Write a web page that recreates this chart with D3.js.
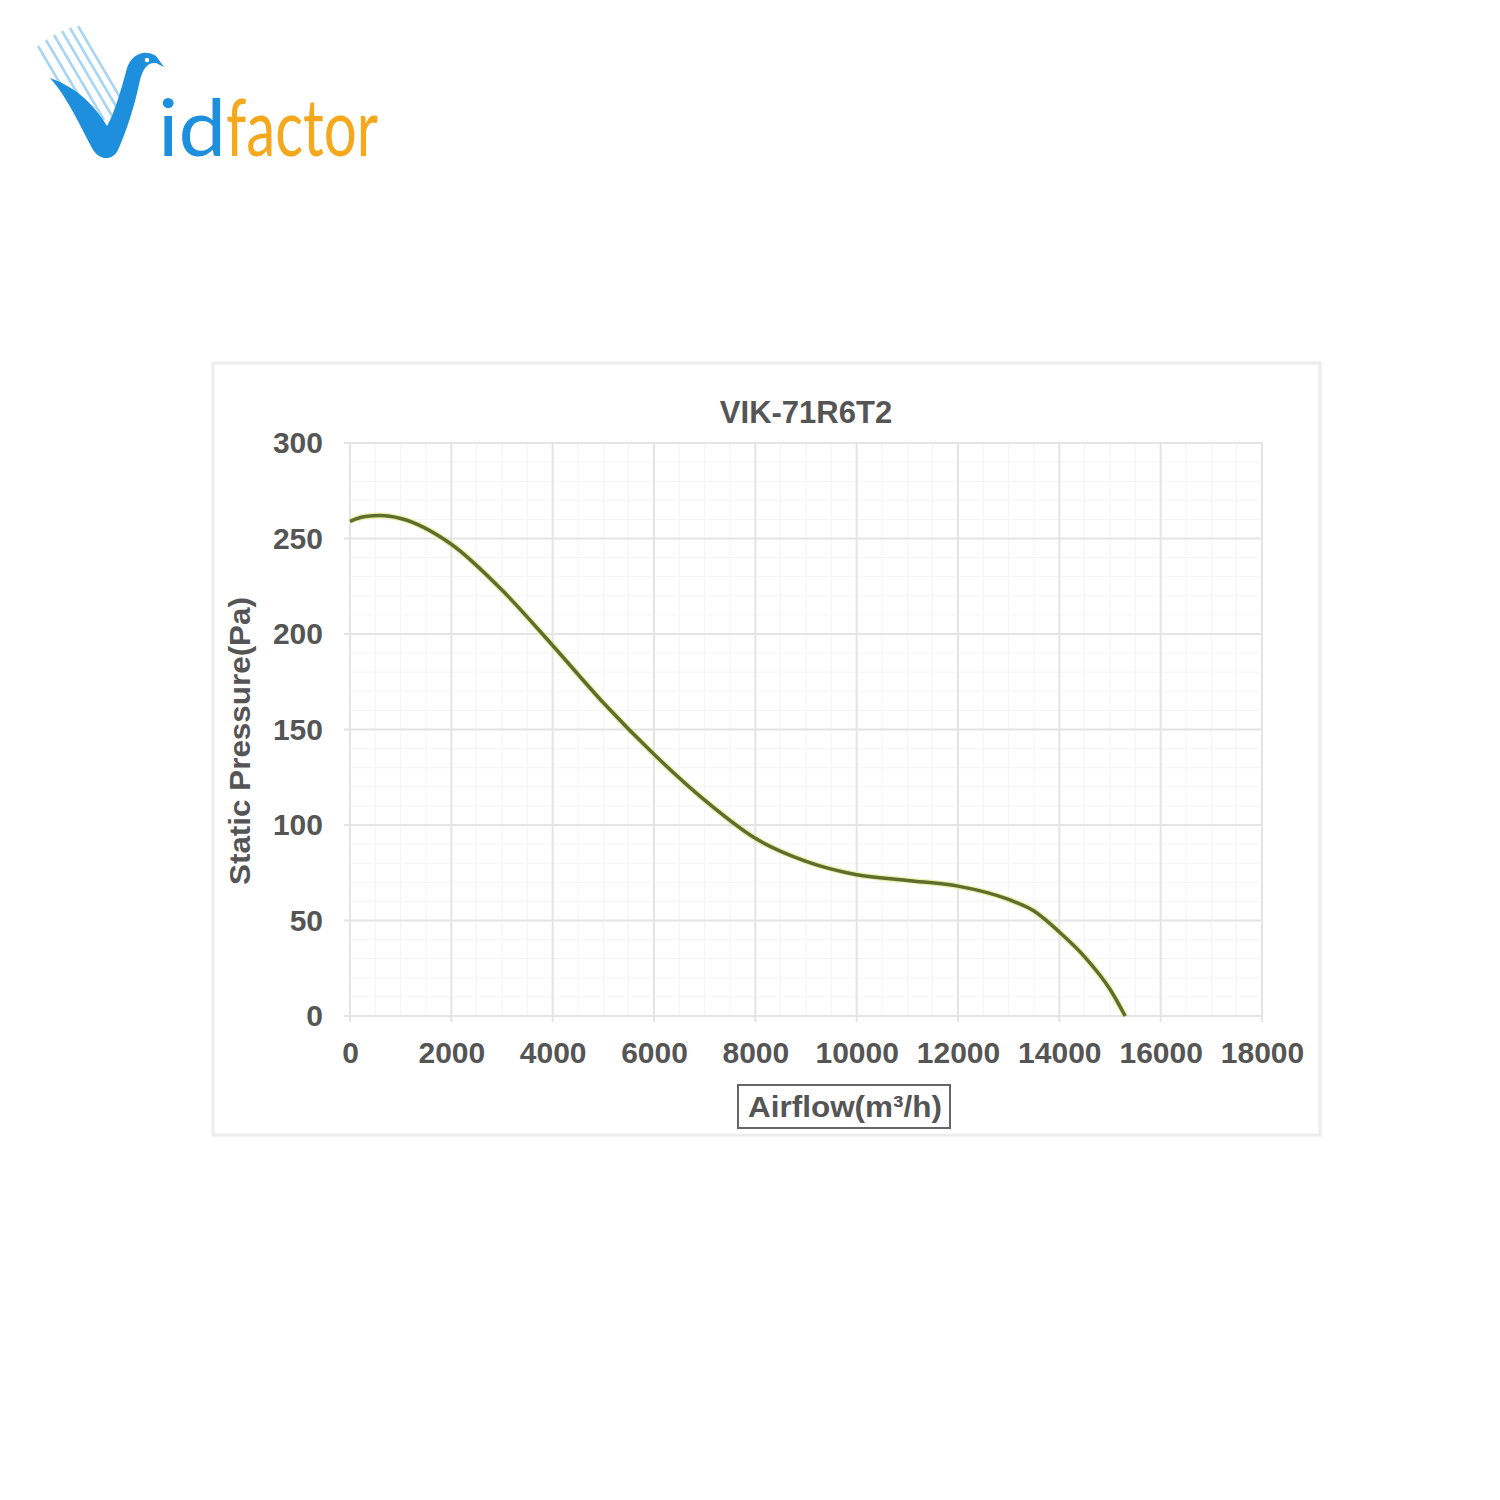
<!DOCTYPE html>
<html><head><meta charset="utf-8">
<script src="https://cdn.jsdelivr.net/npm/d3@7"></script>
<style>body{margin:0;background:#fff;} svg{display:block;}</style>
</head><body>
<script>
const airflow = [0, 300, 600, 1000, 2000, 3000, 4000, 5000, 6000, 7000, 8000, 9000, 10000, 11000, 12000, 13000, 13500, 14000, 14500, 15000, 15300];
const pressure = [259, 261.5, 262, 260.5, 247, 223, 194, 164, 137, 113, 93, 81, 74, 71, 68, 61, 55, 44, 31, 14, 0];
const xTicks = [0, 2000, 4000, 6000, 8000, 10000, 12000, 14000, 16000, 18000];
const yTicks = [0, 50, 100, 150, 200, 250, 300];
const title = "VIK-71R6T2";
const xLabel = "Airflow(m³/h)";
const yLabel = "Static Pressure(Pa)";

const FONT = "Liberation Sans, Arial, sans-serif";
const svg = d3.select("body").append("svg").attr("width",1500).attr("height",1500);
svg.append("rect").attr("width",1500).attr("height",1500).attr("fill","#fff");

// Logo
const logo = svg.append("g");
const feathers = [[38,46],[46,40],[54,35],[62,31],[70,28],[78,26]];
feathers.forEach(f=>{
  logo.append("line").attr("x1",f[0]).attr("y1",f[1]).attr("x2",f[0]+50).attr("y2",f[1]+85)
    .attr("stroke","#6cbcec").attr("stroke-width",2.5).attr("opacity",0.6);
});
logo.append("path")
  .attr("d","M50,78 C68,98 80,126 92,148 C98,160 112,162 118,150 C128,128 136,100 140,80 C143,68 148,62 156,63 L164,67 L156,56 C146,49 132,53 127,68 C121,90 115,112 107,126 C95,106 78,88 50,78 Z")
  .attr("fill","#1d8fdc");
logo.append("circle").attr("cx",147).attr("cy",60).attr("r",2.2).attr("fill","#fff");
logo.append("text").attr("x",158).attr("y",156).attr("font-family","Lato, sans-serif").attr("font-size",80)
  .attr("textLength",68).attr("lengthAdjust","spacingAndGlyphs")
  .attr("fill","#1d8fdc").attr("font-weight",400).text("id");
logo.append("text").attr("x",226).attr("y",156).attr("font-family","Lato, sans-serif").attr("font-size",80)
  .attr("textLength",152).attr("lengthAdjust","spacingAndGlyphs")
  .attr("fill","#f5a81c").attr("font-weight",400).text("factor");

// Chart frame
svg.append("rect").attr("x",213).attr("y",363).attr("width",1107).attr("height",772)
  .attr("fill","#fff").attr("stroke","#ececec").attr("stroke-width",3);

const x = d3.scaleLinear().domain([0,18000]).range([350,1262]);
const y = d3.scaleLinear().domain([0,300]).range([1016,443]);

const grid = svg.append("g");
d3.range(0,18001,500).forEach(v=>{
  grid.append("line").attr("x1",x(v)).attr("x2",x(v)).attr("y1",y(300)).attr("y2",y(0))
    .attr("stroke","#f4f4f4").attr("stroke-width",1);
});
d3.range(0,301,10).forEach(v=>{
  grid.append("line").attr("x1",x(0)).attr("x2",x(18000)).attr("y1",y(v)).attr("y2",y(v))
    .attr("stroke","#f4f4f4").attr("stroke-width",1);
});
xTicks.forEach(v=>{
  grid.append("line").attr("x1",x(v)).attr("x2",x(v)).attr("y1",y(300)).attr("y2",y(0)+6)
    .attr("stroke","#e4e4e4").attr("stroke-width",2);
});
yTicks.forEach(v=>{
  grid.append("line").attr("x1",x(0)-6).attr("x2",x(18000)).attr("y1",y(v)).attr("y2",y(v))
    .attr("stroke","#e4e4e4").attr("stroke-width",2);
});

const xAxis = svg.append("g").attr("transform",`translate(0,${y(0)})`)
  .call(d3.axisBottom(x).tickValues(xTicks).tickSize(0).tickPadding(26).tickFormat(d3.format("d")));
const yAxis = svg.append("g").attr("transform",`translate(${x(0)},0)`)
  .call(d3.axisLeft(y).tickValues(yTicks).tickSize(0).tickPadding(27).tickFormat(d3.format("d")));
[xAxis,yAxis].forEach(a=>{
  a.select(".domain").remove();
  a.selectAll("text").attr("font-family",FONT).attr("font-size",30)
    .attr("font-weight","bold").attr("fill","#555");
});
xAxis.selectAll("text").attr("dy","0.71em");

const line = d3.line().x((d,i)=>x(airflow[i])).y(d=>y(d)).curve(d3.curveMonotoneX);
svg.append("path").datum(pressure).attr("d",line).attr("fill","none")
  .attr("stroke","#d9e87a").attr("stroke-width",6).attr("opacity",0.6);
svg.append("path").datum(pressure).attr("d",line).attr("fill","none")
  .attr("stroke","#5f6e2c").attr("stroke-width",3.5);

svg.append("text").attr("x",806).attr("y",423).attr("text-anchor","middle")
  .attr("font-family",FONT).attr("font-size",31).attr("font-weight","bold")
  .attr("fill","#555").text(title);

svg.append("text").attr("transform","translate(250,741) rotate(-90)").attr("text-anchor","middle")
  .attr("font-family",FONT).attr("font-size",30).attr("font-weight","bold")
  .attr("textLength",288).attr("lengthAdjust","spacingAndGlyphs")
  .attr("fill","#555").text(yLabel);

svg.append("rect").attr("x",738).attr("y",1085).attr("width",212).attr("height",43)
  .attr("fill","#fff").attr("stroke","#666").attr("stroke-width",2);
svg.append("text").attr("x",845).attr("y",1117).attr("text-anchor","middle")
  .attr("font-family",FONT).attr("font-size",30).attr("font-weight","bold")
  .attr("textLength",194).attr("lengthAdjust","spacingAndGlyphs")
  .attr("fill","#555").text(xLabel);
</script>
</body></html>
